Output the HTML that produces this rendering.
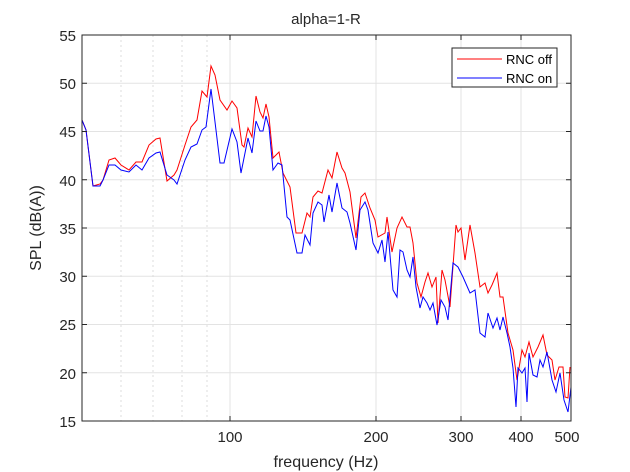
<!DOCTYPE html>
<html><head><meta charset="utf-8"><style>body{margin:0;background:#fff}svg{display:block;font-family:"Liberation Sans",Arial,sans-serif}</style></head><body>
<svg width="630" height="472" viewBox="0 0 630 472" xmlns="http://www.w3.org/2000/svg">
<rect width="630" height="472" fill="#fff"/>
<rect x="82" y="35" width="489" height="386" fill="#fff"/>
<g stroke="#e3e3e3" stroke-width="1">
<line x1="82" x2="571" y1="83.25" y2="83.25"/><line x1="82" x2="571" y1="131.5" y2="131.5"/><line x1="82" x2="571" y1="179.75" y2="179.75"/><line x1="82" x2="571" y1="228" y2="228"/><line x1="82" x2="571" y1="276.25" y2="276.25"/><line x1="82" x2="571" y1="324.5" y2="324.5"/><line x1="82" x2="571" y1="372.75" y2="372.75"/>
<line x1="230" x2="230" y1="35" y2="421"/><line x1="376" x2="376" y1="35" y2="421"/><line x1="461" x2="461" y1="35" y2="421"/><line x1="521" x2="521" y1="35" y2="421"/>
</g>
<g stroke="#dcdcdc" stroke-width="1" stroke-dasharray="2,3">
<line x1="121" x2="121" y1="35" y2="421"/><line x1="153" x2="153" y1="35" y2="421"/><line x1="182" x2="182" y1="35" y2="421"/><line x1="207" x2="207" y1="35" y2="421"/>
</g>
<polyline fill="none" stroke="#ff0000" stroke-width="1" points="82,120 86,130 93,186 100,184 103,180 109,160 115,158 121,165 129,170 136,162 142,162 149,145 156,139 160,138 167,181 174,175 177,170 185,145 191,127 197,120 202,91 207,97 211,66 215,75 220,100 227,110 232,101 237,108 242,145 244,147 248,128 252,137 256,96 260,112 263,118 266,104 269,117 273,158 279,152 283,173 290,187 296,233 302,233 307,213 310,217 313,197 318,191 322,193 328,170 332,178 337,152 342,168 345,173 350,192 356,238 361,197 365,193 370,208 375,220 378,237 385,233 387,217 392,252 397,228 402,217 407,227 410,227 413,243 417,283 421,297 425,282 428,273 432,287 436,277 438,323 442,270 445,280 450,307 456,225 458,232 461,228 465,260 470,225 475,253 480,287 485,283 488,293 492,285 497,273 500,297 503,297 508,333 513,350 517,380 522,350 525,357 529,342 533,357 538,347 543,335 547,355 552,360 555,380 559,367 563,367 565,397 568,398 570,367"/>
<polyline fill="none" stroke="#0000ff" stroke-width="1" points="82,120 86,130 93,186 100,186 103,180 109,165 115,165 121,170 129,172 136,165 142,170 149,158 156,153 160,152 167,175 174,180 177,184 185,160 191,147 197,144 202,130 206,127 211,89 220,163 224,163 232,129 237,142 241,173 248,138 252,153 256,121 260,131 263,131 266,116 269,127 273,170 278,163 282,165 287,217 290,220 297,253 302,253 305,235 310,245 313,213 318,202 322,205 324,222 329,195 332,212 337,183 342,208 347,212 350,223 356,250 360,210 365,202 368,210 373,243 378,253 382,240 385,262 388,232 393,290 397,297 400,250 403,252 407,270 410,277 413,257 416,287 420,308 423,297 427,303 430,310 433,303 437,325 441,300 445,307 448,320 453,263 458,267 463,277 470,293 475,290 480,333 485,337 488,313 493,328 497,318 500,330 503,317 507,333 510,347 513,368 516,407 518,368 522,373 525,368 527,402 529,353 533,375 537,377 540,360 543,367 547,352 552,380 556,392 560,373 564,400 568,412 571,387"/>
<rect x="82" y="35" width="489" height="386" fill="none" stroke="#262626" stroke-width="1"/>
<g stroke="#262626" stroke-width="1">
<line x1="82" x2="87" y1="83.25" y2="83.25"/><line x1="82" x2="87" y1="131.5" y2="131.5"/><line x1="82" x2="87" y1="179.75" y2="179.75"/><line x1="82" x2="87" y1="228" y2="228"/><line x1="82" x2="87" y1="276.25" y2="276.25"/><line x1="82" x2="87" y1="324.5" y2="324.5"/><line x1="82" x2="87" y1="372.75" y2="372.75"/>
<line x1="566" x2="571" y1="83.25" y2="83.25"/><line x1="566" x2="571" y1="131.5" y2="131.5"/><line x1="566" x2="571" y1="179.75" y2="179.75"/><line x1="566" x2="571" y1="228" y2="228"/><line x1="566" x2="571" y1="276.25" y2="276.25"/><line x1="566" x2="571" y1="324.5" y2="324.5"/><line x1="566" x2="571" y1="372.75" y2="372.75"/>
<line x1="230" x2="230" y1="421" y2="416"/><line x1="376" x2="376" y1="421" y2="416"/><line x1="461" x2="461" y1="421" y2="416"/><line x1="521" x2="521" y1="421" y2="416"/>
<line x1="230" x2="230" y1="35" y2="40"/><line x1="376" x2="376" y1="35" y2="40"/><line x1="461" x2="461" y1="35" y2="40"/><line x1="521" x2="521" y1="35" y2="40"/>
</g>
<g font-size="15" fill="#262626" text-anchor="end">
<text x="76" y="41">55</text><text x="76" y="89">50</text><text x="76" y="137">45</text><text x="76" y="186">40</text><text x="76" y="234">35</text><text x="76" y="282">30</text><text x="76" y="330">25</text><text x="76" y="379">20</text><text x="76" y="427">15</text>
</g>
<g font-size="15" fill="#262626" text-anchor="middle">
<text x="230" y="442">100</text><text x="376" y="442">200</text><text x="461" y="442">300</text><text x="521" y="442">400</text><text x="567" y="442">500</text>
<text x="326" y="467" font-size="16">frequency (Hz)</text>
<text x="326" y="24" font-size="15">alpha=1-R</text>
<text transform="translate(41,228) rotate(-90)" font-size="16">SPL (dB(A))</text>
</g>
<rect x="452" y="48" width="105" height="39" fill="#fff" stroke="#262626" stroke-width="1"/>
<line x1="457" x2="502" y1="59" y2="59" stroke="#ff0000"/>
<line x1="457" x2="502" y1="78" y2="78" stroke="#0000ff"/>
<text x="506" y="64" font-size="13" fill="#000">RNC off</text>
<text x="506" y="83" font-size="13" fill="#000">RNC on</text>
</svg>
</body></html>
